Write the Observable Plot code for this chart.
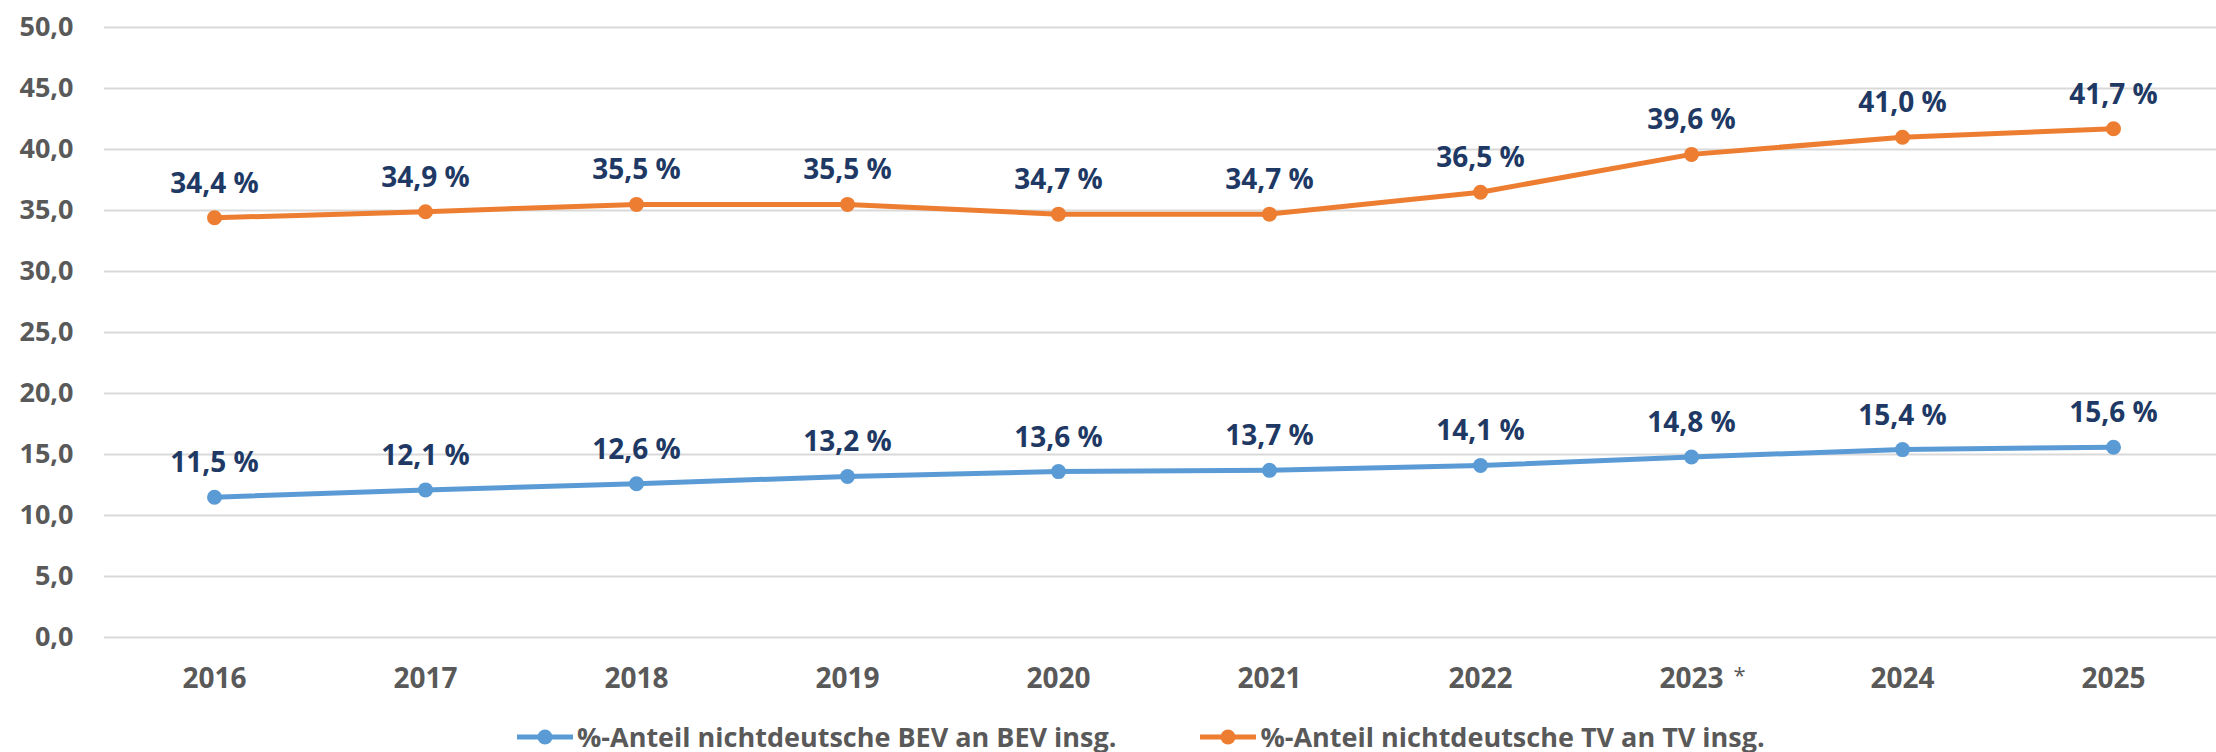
<!DOCTYPE html>
<html>
<head>
<meta charset="utf-8">
<script src="https://cdn.jsdelivr.net/npm/d3@7"></script>
<script src="https://cdn.jsdelivr.net/npm/@observablehq/plot@0.6"></script>
<style>
  html, body { margin: 0; padding: 0; background: #fff; overflow: hidden; }
  body { font-family: "Open Sans", sans-serif; width: 2216px; height: 752px; }
  #legend { display: flex; align-items: center; height: 30px; padding-top: 10px; margin-left: 517px; }
  .item { display: flex; align-items: center; font-size: 27px; font-weight: bold; color: #595959; line-height: 30px; white-space: nowrap; }
  .item svg { margin-right: 4px; }
  .item + .item { margin-left: 84px; }
</style>
</head>
<body>
<div id="chart"></div>
<div id="legend"></div>
<script>
const years = ["2016", "2017", "2018", "2019", "2020", "2021", "2022", "2023", "2024", "2025"];
const bevShare = [11.5, 12.1, 12.6, 13.2, 13.6, 13.7, 14.1, 14.8, 15.4, 15.6];
const tvShare = [34.4, 34.9, 35.5, 35.5, 34.7, 34.7, 36.5, 39.6, 41.0, 41.7];
const yTicks = [0, 5, 10, 15, 20, 25, 30, 35, 40, 45, 50];
const seriesNames = ["%-Anteil nichtdeutsche BEV an BEV insg.", "%-Anteil nichtdeutsche TV an TV insg."];
const seriesColors = ["#5B9BD5", "#ED7D31"];
const footnoteYear = "2023";
const footnoteMark = "*";

const data = years.flatMap((year, i) => [
  {year, value: bevShare[i], series: seriesNames[0]},
  {year, value: tvShare[i], series: seriesNames[1]}
]);
const fmt = v => v.toFixed(1).replace(".", ",");

const chart = Plot.plot({
  width: 2216,
  height: 712,
  marginLeft: 104,
  marginRight: 0,
  marginTop: 27,
  marginBottom: 75,
  style: {fontFamily: "Open Sans", background: "white", overflow: "visible"},
  x: {type: "point", domain: years, range: [210, 2117], padding: 0},
  y: {domain: [0, 50]},
  color: {domain: seriesNames, range: seriesColors},
  marks: [
    Plot.ruleY(yTicks, {stroke: "#d9d9d9", strokeWidth: 2}),
    Plot.axisY({ticks: yTicks, tickSize: 0, tickPadding: 31, tickFormat: fmt, fontSize: 27, fontWeight: "bold", fill: "#595959", label: null}),
    Plot.axisX({tickSize: 0, tickPadding: 31, fontSize: 28, fontWeight: "bold", fill: "#595959", label: null}),
    Plot.text([footnoteMark], {x: () => footnoteYear, y: () => 0, text: d => d, dx: 48, dy: 38, fontSize: 22, fill: "#595959", lineAnchor: "middle"}),
    Plot.line(data, {x: "year", y: "value", stroke: "series", strokeWidth: 5, curve: "linear"}),
    Plot.dot(data, {x: "year", y: "value", fill: "series", r: 7.5}),
    Plot.text(data, {x: "year", y: "value", text: d => fmt(d.value) + " %", dy: -25, lineAnchor: "bottom", fill: "#203864", fontSize: 28, fontWeight: "bold"})
  ]
});
document.getElementById("chart").appendChild(chart);

const legend = document.getElementById("legend");
seriesNames.forEach((name, i) => {
  const item = document.createElement("div");
  item.className = "item";
  item.innerHTML = `<svg width="56" height="18" viewBox="0 0 56 18"><line x1="0" y1="9" x2="56" y2="9" stroke="${seriesColors[i]}" stroke-width="5"/><circle cx="28" cy="9" r="7.5" fill="${seriesColors[i]}"/></svg><span>${name}</span>`;
  legend.appendChild(item);
});
</script>
</body>
</html>
